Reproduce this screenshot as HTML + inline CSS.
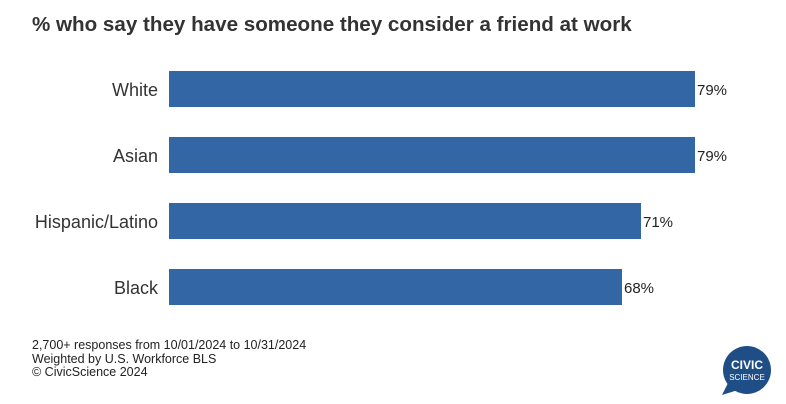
<!DOCTYPE html>
<html><head><style>
body{margin:0;width:786px;height:404px;background:#fff;position:relative;font-family:"Liberation Sans",Arial,sans-serif;overflow:hidden}
.t{position:absolute;left:32px;top:13px;font-size:20.6px;font-weight:bold;color:#333;white-space:nowrap}
.bar{position:absolute;left:169px;height:36px;background:#3366a4}
.lab{position:absolute;right:628px;font-size:18px;color:#333;text-align:right;white-space:nowrap}
.val{position:absolute;font-size:15px;color:#222;margin-top:2px}
.f{position:absolute;left:32px;top:339px;font-size:12.5px;line-height:13.5px;color:#222;white-space:nowrap}
</style></head><body>
<div class="t">% who say they have someone they consider a friend at work</div>
<div class="bar" style="top:71px;width:526px"></div><div class="lab" style="top:80px">White</div><div class="val" style="left:697px;top:80px">79%</div>
<div class="bar" style="top:137px;width:526px"></div><div class="lab" style="top:146px">Asian</div><div class="val" style="left:697px;top:146px">79%</div>
<div class="bar" style="top:203px;width:472px"></div><div class="lab" style="top:212px">Hispanic/Latino</div><div class="val" style="left:643px;top:212px">71%</div>
<div class="bar" style="top:269px;width:453px"></div><div class="lab" style="top:278px">Black</div><div class="val" style="left:624px;top:278px">68%</div>
<div class="f">2,700+ responses from 10/01/2024 to 10/31/2024<br>Weighted by U.S. Workforce BLS<br>© CivicScience 2024</div>
<svg style="position:absolute;left:718px;top:343px" width="60" height="58">
<circle cx="29" cy="27" r="24" fill="#1f4e86"/>
<path d="M10 40 L4 52 L20 47 Z" fill="#1f4e86"/>
<text x="29" y="26" font-size="12" font-weight="bold" fill="#fff" text-anchor="middle" font-family="Liberation Sans">CIVIC</text>
<text x="29" y="37" font-size="8" fill="#fff" text-anchor="middle" font-family="Liberation Sans">SCIENCE</text>
</svg>
</body></html>
